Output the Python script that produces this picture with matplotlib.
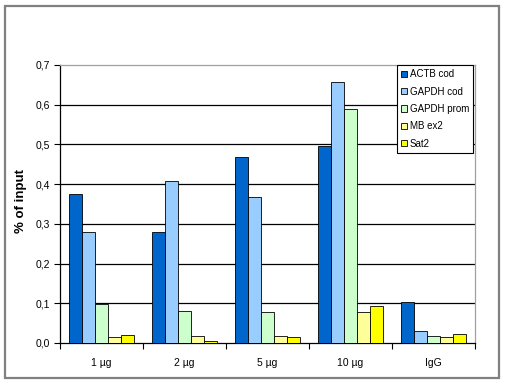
import matplotlib as mpl
mpl.use('Agg')
import matplotlib.pyplot as plt
from matplotlib.patches import Rectangle, Patch
import numpy as np

# Data
categories = ["1 µg", "2 µg", "5 µg", "10 µg", "IgG"]
series = ["ACTB cod", "GAPDH cod", "GAPDH prom", "MB ex2", "Sat2"]
actb_cod = [0.375, 0.279, 0.468, 0.496, 0.102]
gapdh_cod = [0.280, 0.407, 0.367, 0.656, 0.029]
gapdh_prom = [0.098, 0.081, 0.079, 0.590, 0.017]
mb_ex2 = [0.014, 0.017, 0.017, 0.077, 0.014]
sat2 = [0.019, 0.005, 0.014, 0.093, 0.023]
yticks = [0.0, 0.1, 0.2, 0.3, 0.4, 0.5, 0.6, 0.7]

colors = ["#0066CC", "#99CCFF", "#CCFFCC", "#FFFF99", "#FFFF00"]
values = [actb_cod, gapdh_cod, gapdh_prom, mb_ex2, sat2]

plt.rcParams['font.family'] = ['Liberation Sans', 'DejaVu Sans']

W, H = 505, 384
fig = plt.figure(figsize=(W / 100, H / 100), dpi=100, facecolor='w')
ax = fig.add_axes([60 / W, (H - 343) / H, 415 / W, 278 / H])

# outer frame
fig.patches.append(Rectangle((5 / W, 6 / H), 494 / W, 372 / H, transform=fig.transFigure,
                             fill=False, edgecolor='#808080', linewidth=1.6))

x = np.arange(len(categories))
bw = 0.157
for i, (vals, col) in enumerate(zip(values, colors)):
    ax.bar(x + (i - 2) * bw, vals, width=bw, color=col, edgecolor='black', linewidth=0.6, zorder=3)

ax.set_xlim(-0.5, len(categories) - 0.5)
ax.set_ylim(0, 0.7)
for y in yticks[1:-1]:
    ax.axhline(y, color='black', linewidth=0.9, zorder=1)

ax.set_yticks(yticks)
ax.set_yticklabels([f"{v:.1f}".replace('.', ',') for v in yticks], fontsize=7.5)
ax.set_xticks(x)
ax.set_xticklabels(categories, fontsize=7.5)
ax.set_xticks(np.arange(len(categories) + 1) - 0.5, minor=True)
ax.tick_params(axis='x', which='major', length=0, pad=11)
ax.tick_params(axis='x', which='minor', length=4, width=0.8, direction='out')
ax.tick_params(axis='y', length=4, width=0.8, direction='out', pad=3)

ax.spines['left'].set_color('black')
ax.spines['bottom'].set_color('black')
ax.spines['top'].set_color('#A0A0A0')
ax.spines['right'].set_color('#A0A0A0')
for s in ax.spines.values():
    s.set_linewidth(0.9)

ax.set_ylabel("% of input", fontsize=9.5, fontweight='bold')
ax.yaxis.set_label_coords(-0.08, 0.51)

handles = [Patch(facecolor=c, edgecolor='black', linewidth=0.6) for c in colors]
leg = ax.legend(handles, series, loc='upper right', bbox_to_anchor=(0.996, 1.0),
                fontsize=7, frameon=True, fancybox=False, framealpha=1,
                handlelength=0.6, handleheight=0.6, handletextpad=0.25,
                labelspacing=0.75, borderpad=0.45, borderaxespad=0)
leg.get_frame().set_edgecolor('black')
leg.get_frame().set_linewidth(0.8)
leg.set_zorder(5)

plt.savefig("out.png", dpi=100)
